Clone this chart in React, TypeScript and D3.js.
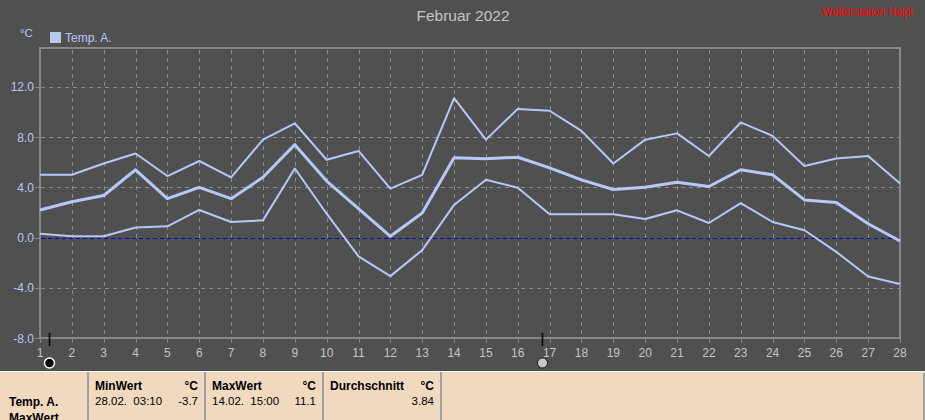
import React from "react";
import * as d3 from "d3";

// Tageswerte Februar 2022 (Temp. A., °C)
const days = d3.range(1, 29);
const maxTemp = [5.0, 5.0, 5.9, 6.7, 4.9, 6.1, 4.8, 7.8, 9.1, 6.2, 6.9, 3.9, 5.0, 11.1, 7.8, 10.25, 10.1, 8.5, 5.9, 7.8, 8.3, 6.5, 9.17, 8.1, 5.7, 6.3, 6.5, 4.3];
const avgTemp = [2.2, 2.85, 3.35, 5.4, 3.1, 4.0, 3.1, 4.8, 7.4, 4.5, 2.3, 0.1, 1.95, 6.35, 6.27, 6.4, 5.55, 4.6, 3.83, 4.0, 4.4, 4.07, 5.4, 5.0, 3.0, 2.8, 1.1, -0.27];
const minTemp = [0.3, 0.1, 0.1, 0.8, 0.9, 2.2, 1.24, 1.37, 5.5, 1.9, -1.5, -3.07, -1.0, 2.6, 4.6, 3.97, 1.85, 1.85, 1.85, 1.48, 2.17, 1.16, 2.75, 1.24, 0.58, -1.14, -3.1, -3.7];
const yTicks = [-8, -4, 0, 4, 8, 12];
const cursors = [1.28, 16.76];

const W = 925;
const H = 420;
const bg = "#505050";
const lineColor = "#b4c8fa";
const axisColor = "#888888";
const gridColor = "#8c8c8c";

export default function App() {
  const x = d3.scaleLinear().domain([1, 28]).range([40, 900]);
  const y = d3.scaleLinear().domain([-8, 15.1]).range([338, 48]);

  const line = d3
    .line<number>()
    .x((_, i) => x(days[i]))
    .y((d) => y(d));

  const series = [
    { values: maxTemp, width: 2 },
    { values: avgTemp, width: 3 },
    { values: minTemp, width: 2 },
  ];

  return (
    <svg
      width={W}
      height={H}
      style={{ position: "absolute", left: 0, top: 0, display: "block" }}
      fontFamily="'Liberation Sans', Arial, sans-serif"
    >
      <rect x={0} y={0} width={W} height={H} fill={bg} />

      {/* Titel */}
      <text x={463} y={21} textAnchor="middle" fontSize={15.5} fill="#c4c4c4">
        Februar 2022
      </text>
      <text x={822} y={16} fontSize={12} fill="#ff0000" textLength={91} lengthAdjust="spacingAndGlyphs">
        Wetterstation Helpt
      </text>

      {/* Einheit + Legende */}
      <text x={20} y={37} fontSize={11.5} fill={lineColor}>°C</text>
      <rect x={50.5} y={32.5} width={10} height={10} fill={lineColor} stroke="#c8c8c8" />
      <text x={65} y={42} fontSize={12} fill={lineColor}>Temp. A.</text>

      {/* Gitter */}
      <g stroke={gridColor} strokeWidth={1} strokeDasharray="4,4">
        {days.slice(1, -1).map((d) => (
          <line key={"v" + d} x1={Math.round(x(d)) + 0.5} x2={Math.round(x(d)) + 0.5} y1={50} y2={337} />
        ))}
        {yTicks
          .filter((t) => t !== 0 && t !== -8)
          .map((t) => (
            <line key={"h" + t} x1={41} x2={899} y1={Math.round(y(t)) + 0.5} y2={Math.round(y(t)) + 0.5} />
          ))}
      </g>
      <line
        x1={41}
        x2={899}
        y1={Math.round(y(0)) + 0.5}
        y2={Math.round(y(0)) + 0.5}
        stroke="#0000c8"
        strokeWidth={1}
        strokeDasharray="4,3"
      />

      {/* Rahmen */}
      <g stroke={axisColor} strokeWidth={2} fill="none">
        <rect x={40} y={48} width={860} height={290} />
      </g>

      {/* Y-Achse */}
      {yTicks.map((t) => (
        <g key={"yt" + t}>
          <line x1={35} x2={40} y1={Math.round(y(t)) + 0.5} y2={Math.round(y(t)) + 0.5} stroke={axisColor} />
          <text x={34} y={y(t) + 4.5} textAnchor="end" fontSize={12} fill={lineColor}>
            {t.toFixed(1)}
          </text>
        </g>
      ))}

      {/* X-Achse */}
      {days.map((d) => (
        <g key={"xt" + d}>
          <line x1={Math.round(x(d)) + 0.5} x2={Math.round(x(d)) + 0.5} y1={338} y2={343} stroke={axisColor} />
          <text x={x(d)} y={357} textAnchor="middle" fontSize={12} fill="#c4c4c4">
            {d}
          </text>
        </g>
      ))}

      {/* Messreihen */}
      {series.map((s, i) => (
        <path
          key={"s" + i}
          d={line(s.values) ?? undefined}
          fill="none"
          stroke={lineColor}
          strokeWidth={s.width}
          strokeLinejoin="round"
        />
      ))}

      {/* Cursor */}
      {cursors.map((c, i) => (
        <g key={"c" + i}>
          <line x1={Math.round(x(c)) + 0.5} x2={Math.round(x(c)) + 0.5} y1={333} y2={346} stroke="#000" strokeWidth={1.5} />
          <circle
            cx={Math.round(x(c)) + 0.5}
            cy={363}
            r={5}
            fill={i === 0 ? "#000" : "#c8c8c8"}
            stroke={i === 0 ? "#fff" : "#202020"}
            strokeWidth={i === 0 ? 1.5 : 1}
          />
        </g>
      ))}

      {/* Tabelle */}
      <rect x={0} y={371} width={W} height={H - 371} fill="#f0d9bf" />
      <line x1={0} x2={W} y1={371.5} y2={371.5} stroke="#ffffff" />
      <g stroke="#a0a0a0" strokeWidth={2}>
        {[88, 205, 323, 441].map((cx) => (
          <line key={"col" + cx} x1={cx} x2={cx} y1={372} y2={H} />
        ))}
        <line x1={924} x2={924} y1={373} y2={H} />
      </g>
      <g fontSize={12} fill="#000">
        <text x={9} y={406} fontWeight="bold">Temp. A.</text>
        <text x={9} y={422} fontWeight="bold">MaxWert</text>

        <text x={95} y={390} fontWeight="bold">MinWert</text>
        <text x={198} y={390} fontWeight="bold" textAnchor="end">°C</text>
        <text x={95} y={405} fontSize={11.5}>{"28.02.\u00a0\u00a003:10"}</text>
        <text x={198} y={405} fontSize={11.5} textAnchor="end">{d3.min(minTemp)!.toFixed(1)}</text>

        <text x={212} y={390} fontWeight="bold">MaxWert</text>
        <text x={316} y={390} fontWeight="bold" textAnchor="end">°C</text>
        <text x={212} y={405} fontSize={11.5}>{"14.02.\u00a0\u00a015:00"}</text>
        <text x={316} y={405} fontSize={11.5} textAnchor="end">{d3.max(maxTemp)!.toFixed(1)}</text>

        <text x={330} y={390} fontWeight="bold">Durchschnitt</text>
        <text x={434} y={390} fontWeight="bold" textAnchor="end">°C</text>
        <text x={434} y={405} fontSize={11.5} textAnchor="end">3.84</text>
      </g>
    </svg>
  );
}
